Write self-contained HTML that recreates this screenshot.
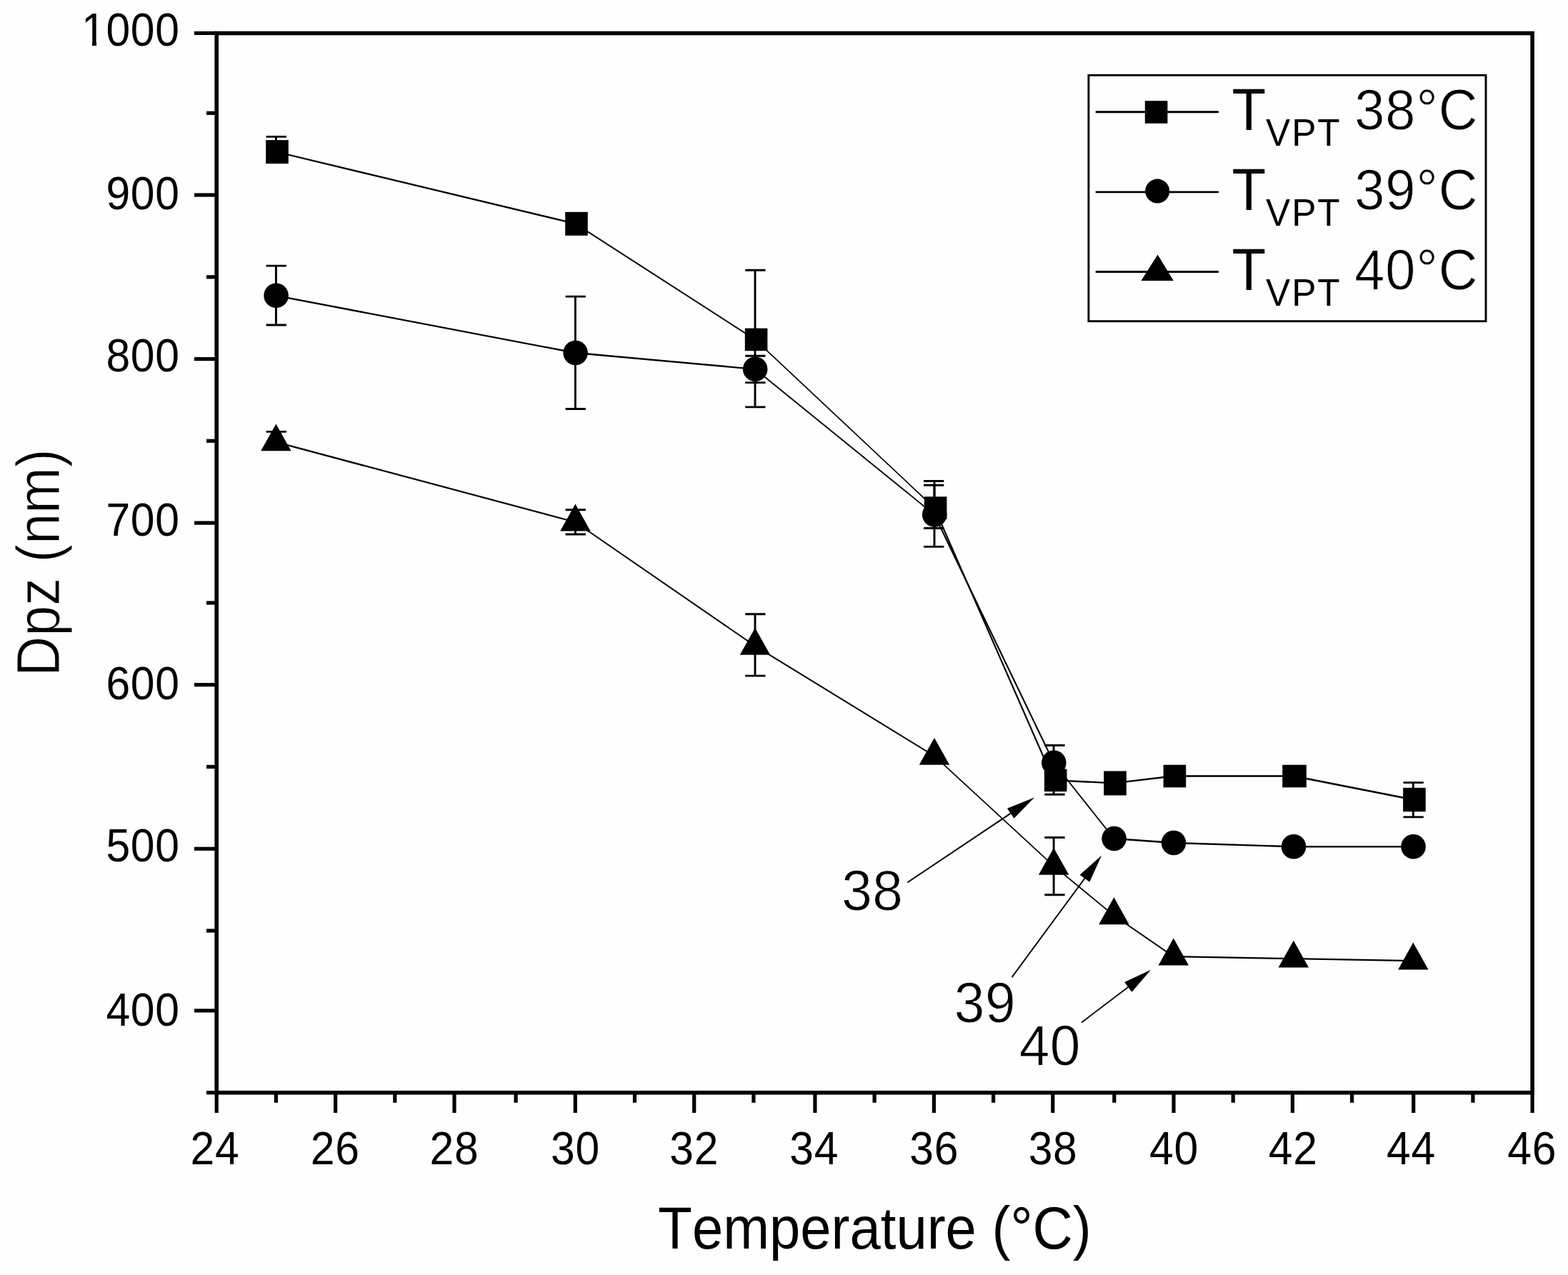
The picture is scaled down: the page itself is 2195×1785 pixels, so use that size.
<!DOCTYPE html>
<html lang="en"><head><meta charset="utf-8">
<title>Dpz vs Temperature</title>
<style>
html,body{margin:0;padding:0;background:#fefefe;}
body{width:2195px;height:1785px;}
svg{display:block;}
text{font-family:'Liberation Sans', sans-serif;fill:#000;font-kerning:none;}
.tick{font-size:64.5px;letter-spacing:0.8px;}
.big{font-size:82.8px;}
.sub{font-size:54.5px;letter-spacing:2.1px;}
.lnum{font-size:80.5px;letter-spacing:1.1px;stroke:#fefefe;stroke-width:0.9px;}
.num{font-size:80.5px;letter-spacing:0.5px;stroke:#fefefe;stroke-width:0.9px;}
.ytitle{font-size:84.4px;stroke:#fefefe;stroke-width:1.0px;}
</style></head><body>
<svg width="2195" height="1785" viewBox="0 0 2195 1785">
<rect x="0" y="0" width="2195" height="1785" fill="#fefefe"/>
<g id="frame" stroke="#000" fill="none" stroke-linecap="butt">
<rect x="303.2" y="46.5" width="1841.9" height="1483.2" stroke-width="5.6"/>
<line x1="289.0" y1="1529.7" x2="303.2" y2="1529.7" stroke-width="5.2"/>
<line x1="272.0" y1="1414.9" x2="303.2" y2="1414.9" stroke-width="5.2"/>
<line x1="289.0" y1="1303.0" x2="303.2" y2="1303.0" stroke-width="5.2"/>
<line x1="272.0" y1="1188.3" x2="303.2" y2="1188.3" stroke-width="5.2"/>
<line x1="289.0" y1="1073.5" x2="303.2" y2="1073.5" stroke-width="5.2"/>
<line x1="272.0" y1="958.7" x2="303.2" y2="958.7" stroke-width="5.2"/>
<line x1="289.0" y1="844.0" x2="303.2" y2="844.0" stroke-width="5.2"/>
<line x1="272.0" y1="732.1" x2="303.2" y2="732.1" stroke-width="5.2"/>
<line x1="289.0" y1="617.3" x2="303.2" y2="617.3" stroke-width="5.2"/>
<line x1="272.0" y1="502.6" x2="303.2" y2="502.6" stroke-width="5.2"/>
<line x1="289.0" y1="387.8" x2="303.2" y2="387.8" stroke-width="5.2"/>
<line x1="272.0" y1="273.0" x2="303.2" y2="273.0" stroke-width="5.2"/>
<line x1="289.0" y1="158.3" x2="303.2" y2="158.3" stroke-width="5.2"/>
<line x1="272.0" y1="46.4" x2="303.2" y2="46.4" stroke-width="5.2"/>
<line x1="303.2" y1="1529.7" x2="303.2" y2="1558.0" stroke-width="5.2"/>
<line x1="386.4" y1="1529.7" x2="386.4" y2="1543.8" stroke-width="5.2"/>
<line x1="469.6" y1="1529.7" x2="469.6" y2="1558.0" stroke-width="5.2"/>
<line x1="552.8" y1="1529.7" x2="552.8" y2="1543.8" stroke-width="5.2"/>
<line x1="636.0" y1="1529.7" x2="636.0" y2="1558.0" stroke-width="5.2"/>
<line x1="722.1" y1="1529.7" x2="722.1" y2="1543.8" stroke-width="5.2"/>
<line x1="805.3" y1="1529.7" x2="805.3" y2="1558.0" stroke-width="5.2"/>
<line x1="888.5" y1="1529.7" x2="888.5" y2="1543.8" stroke-width="5.2"/>
<line x1="971.7" y1="1529.7" x2="971.7" y2="1558.0" stroke-width="5.2"/>
<line x1="1054.9" y1="1529.7" x2="1054.9" y2="1543.8" stroke-width="5.2"/>
<line x1="1140.9" y1="1529.7" x2="1140.9" y2="1558.0" stroke-width="5.2"/>
<line x1="1224.1" y1="1529.7" x2="1224.1" y2="1543.8" stroke-width="5.2"/>
<line x1="1307.4" y1="1529.7" x2="1307.4" y2="1558.0" stroke-width="5.2"/>
<line x1="1390.6" y1="1529.7" x2="1390.6" y2="1543.8" stroke-width="5.2"/>
<line x1="1473.8" y1="1529.7" x2="1473.8" y2="1558.0" stroke-width="5.2"/>
<line x1="1559.8" y1="1529.7" x2="1559.8" y2="1543.8" stroke-width="5.2"/>
<line x1="1643.0" y1="1529.7" x2="1643.0" y2="1558.0" stroke-width="5.2"/>
<line x1="1726.2" y1="1529.7" x2="1726.2" y2="1543.8" stroke-width="5.2"/>
<line x1="1809.4" y1="1529.7" x2="1809.4" y2="1558.0" stroke-width="5.2"/>
<line x1="1892.6" y1="1529.7" x2="1892.6" y2="1543.8" stroke-width="5.2"/>
<line x1="1978.7" y1="1529.7" x2="1978.7" y2="1558.0" stroke-width="5.2"/>
<line x1="2061.9" y1="1529.7" x2="2061.9" y2="1543.8" stroke-width="5.2"/>
<line x1="2145.1" y1="1529.7" x2="2145.1" y2="1558.0" stroke-width="5.2"/>
</g>
<g id="ylabels">
<text class="tick" text-anchor="end" transform="translate(251.8 63.7) scale(0.940 1)">1000</text>
<text class="tick" text-anchor="end" transform="translate(251.8 293.1) scale(0.940 1)">900</text>
<text class="tick" text-anchor="end" transform="translate(251.8 519.8) scale(0.940 1)">800</text>
<text class="tick" text-anchor="end" transform="translate(251.8 749.6) scale(0.940 1)">700</text>
<text class="tick" text-anchor="end" transform="translate(251.8 979.2) scale(0.940 1)">600</text>
<text class="tick" text-anchor="end" transform="translate(251.8 1205.7) scale(0.940 1)">500</text>
<text class="tick" text-anchor="end" transform="translate(251.8 1435.5) scale(0.940 1)">400</text>
<path d="M116.5 58.5H129.0V64.8H116.5ZM135.0 58.5H146.0V64.8H135.0Z" fill="#fefefe"/>
</g>
<g id="xlabels">
<text class="tick" text-anchor="middle" transform="translate(301.0 1630.3) scale(0.940 1)">24</text>
<text class="tick" text-anchor="middle" transform="translate(469.3 1630.3) scale(0.940 1)">26</text>
<text class="tick" text-anchor="middle" transform="translate(636.0 1630.3) scale(0.940 1)">28</text>
<text class="tick" text-anchor="middle" transform="translate(805.5 1630.3) scale(0.940 1)">30</text>
<text class="tick" text-anchor="middle" transform="translate(971.8 1630.3) scale(0.940 1)">32</text>
<text class="tick" text-anchor="middle" transform="translate(1139.7 1630.3) scale(0.940 1)">34</text>
<text class="tick" text-anchor="middle" transform="translate(1307.8 1630.3) scale(0.940 1)">36</text>
<text class="tick" text-anchor="middle" transform="translate(1474.1 1630.3) scale(0.940 1)">38</text>
<text class="tick" text-anchor="middle" transform="translate(1643.5 1630.3) scale(0.940 1)">40</text>
<text class="tick" text-anchor="middle" transform="translate(1810.2 1630.3) scale(0.940 1)">42</text>
<text class="tick" text-anchor="middle" transform="translate(1975.5 1630.3) scale(0.940 1)">44</text>
<text class="tick" text-anchor="middle" transform="translate(2144.7 1630.3) scale(0.940 1)">46</text>
</g>
<text class="big" text-anchor="middle" transform="translate(1224.5 1747.9) scale(0.940 1)">Temperature (°C)</text>
<text class="ytitle" text-anchor="middle" transform="translate(82.7 787.6) rotate(-90) scale(0.917 1)">Dpz (nm)</text>
<g id="lines" stroke="#000" fill="none" stroke-linecap="round">
<line x1="386.4" y1="212.5" x2="805.4" y2="313.2" stroke-width="2.29"/>
<line x1="805.4" y1="313.2" x2="1057.0" y2="475.3" stroke-width="1.98"/>
<line x1="1057.0" y1="475.3" x2="1308.0" y2="711.0" stroke-width="1.72"/>
<line x1="1308.0" y1="711.0" x2="1475.1" y2="1092.3" stroke-width="2.16"/>
<line x1="1475.1" y1="1092.3" x2="1559.4" y2="1096.4" stroke-width="2.35"/>
<line x1="1559.4" y1="1096.4" x2="1642.8" y2="1086.5" stroke-width="2.34"/>
<line x1="1642.8" y1="1086.5" x2="1810.8" y2="1086.5" stroke-width="2.35"/>
<line x1="1810.8" y1="1086.5" x2="1978.3" y2="1119.5" stroke-width="2.31"/>
<line x1="386.4" y1="413.8" x2="805.4" y2="494.0" stroke-width="2.31"/>
<line x1="805.4" y1="494.0" x2="1057.0" y2="516.8" stroke-width="2.34"/>
<line x1="1057.0" y1="516.8" x2="1308.0" y2="720.5" stroke-width="1.83"/>
<line x1="1308.0" y1="720.5" x2="1475.1" y2="1067.8" stroke-width="2.12"/>
<line x1="1475.1" y1="1067.8" x2="1559.4" y2="1174.0" stroke-width="1.84"/>
<line x1="1559.4" y1="1174.0" x2="1642.8" y2="1180.0" stroke-width="2.35"/>
<line x1="1642.8" y1="1180.0" x2="1810.8" y2="1185.3" stroke-width="2.35"/>
<line x1="1810.8" y1="1185.3" x2="1978.3" y2="1185.3" stroke-width="2.35"/>
<line x1="386.4" y1="618.9" x2="805.4" y2="731.0" stroke-width="2.27"/>
<line x1="805.4" y1="731.0" x2="1057.0" y2="904.4" stroke-width="1.94"/>
<line x1="1057.0" y1="904.4" x2="1308.0" y2="1058.4" stroke-width="2.01"/>
<line x1="1308.0" y1="1058.4" x2="1475.1" y2="1212.4" stroke-width="1.73"/>
<line x1="1475.1" y1="1212.4" x2="1559.4" y2="1281.8" stroke-width="1.82"/>
<line x1="1559.4" y1="1281.8" x2="1642.8" y2="1339.1" stroke-width="1.94"/>
<line x1="1642.8" y1="1339.1" x2="1810.8" y2="1342.2" stroke-width="2.35"/>
<line x1="1810.8" y1="1342.2" x2="1978.3" y2="1345.1" stroke-width="2.35"/>
</g>
<g id="errorbars" stroke="#000" fill="none" stroke-width="2.9">
<path d="M372.6 191.4H400.9M372.6 226.0H400.9M386.4 191.4V226.0"/>
<path d="M372.6 372.1H400.9M372.6 455.0H400.9M386.4 372.1V455.0"/>
<path d="M372.6 604.4H400.9M372.6 629.5H400.9M386.4 604.4V629.5"/>
<path d="M791.6 415.1H819.9M791.6 572.5H819.9M805.4 415.1V572.5"/>
<path d="M791.6 713.7H819.9M791.6 748.0H819.9M805.4 713.7V748.0"/>
<path d="M1043.2 378.2H1071.5M1043.2 569.9H1071.5M1057.0 378.2V569.9"/>
<path d="M1043.2 498.2H1071.5M1043.2 535.6H1071.5M1057.0 498.2V535.6"/>
<path d="M1043.2 859.8H1071.5M1043.2 946.1H1071.5M1057.0 859.8V946.1"/>
<path d="M1293.0 673.5H1321.3M1293.0 739.5H1321.3M1308.0 673.5V739.5"/>
<path d="M1293.0 679.2H1321.3M1293.0 765.4H1321.3M1308.0 679.2V765.4"/>
<path d="M1462.3 1043.5H1490.6M1462.3 1092.0H1490.6M1475.1 1043.5V1092.0"/>
<path d="M1462.3 1072.0H1490.6M1462.3 1112.2H1490.6M1475.1 1072.0V1112.2"/>
<path d="M1462.3 1172.5H1490.6M1462.3 1252.7H1490.6M1475.1 1172.5V1252.7"/>
<path d="M1964.5 1095.6H1992.8M1964.5 1143.9H1992.8M1978.3 1095.6V1143.9"/>
</g>
<g id="markers" fill="#000" stroke="none">
<rect x="372.2" y="196.1" width="31.6" height="33.0"/>
<rect x="791.2" y="296.8" width="31.6" height="33.0"/>
<rect x="1042.8" y="459.6" width="31.6" height="31.6"/>
<rect x="1293.8" y="695.3" width="31.6" height="31.6"/>
<rect x="1461.9" y="1076.6" width="31.6" height="31.6"/>
<rect x="1545.2" y="1079.5" width="31.6" height="34.0"/>
<rect x="1628.6" y="1070.8" width="31.6" height="31.6"/>
<rect x="1795.2" y="1070.8" width="33.6" height="31.6"/>
<rect x="1964.1" y="1102.9" width="31.6" height="33.4"/>
<circle cx="386.6" cy="413.8" r="17.3"/>
<circle cx="805.6" cy="494.0" r="17.3"/>
<circle cx="1057.2" cy="516.8" r="17.3"/>
<circle cx="1308.2" cy="720.5" r="17.3"/>
<circle cx="1475.3" cy="1067.8" r="17.3"/>
<circle cx="1559.6" cy="1174.0" r="17.3"/>
<circle cx="1643.0" cy="1180.0" r="17.3"/>
<circle cx="1811.0" cy="1185.3" r="17.3"/>
<circle cx="1978.5" cy="1185.3" r="17.3"/>
<polygon points="386.4,593.4 407.6,631.3 365.2,631.3"/>
<polygon points="805.4,705.5 826.6,743.4 784.2,743.4"/>
<polygon points="1057.0,878.9 1078.2,916.8 1035.8,916.8"/>
<polygon points="1308.0,1032.9 1329.2,1070.8 1286.8,1070.8"/>
<polygon points="1475.1,1186.9 1496.3,1224.8 1453.9,1224.8"/>
<polygon points="1559.4,1256.3 1580.6,1294.2 1538.2,1294.2"/>
<polygon points="1642.8,1313.6 1664.0,1351.5 1621.6,1351.5"/>
<polygon points="1810.8,1316.7 1832.0,1354.6 1789.6,1354.6"/>
<polygon points="1978.3,1319.6 1999.5,1357.5 1957.1,1357.5"/>
</g>
<g id="annotations">
<line x1="1270.3" y1="1235.5" x2="1416.4" y2="1137.6" stroke="#000" stroke-width="1.96"/>
<polygon fill="#000" points="1448.0,1116.5 1419.5,1145.8 1410.0,1131.7"/>
<line x1="1416.5" y1="1368.1" x2="1519.7" y2="1228.1" stroke="#000" stroke-width="1.89"/>
<polygon fill="#000" points="1542.2,1197.5 1525.3,1234.7 1511.6,1224.7"/>
<line x1="1514.1" y1="1431.4" x2="1580.8" y2="1380.7" stroke="#000" stroke-width="1.87"/>
<polygon fill="#000" points="1611.1,1357.7 1584.4,1388.7 1574.1,1375.1"/>
<text class="num" text-anchor="middle" transform="translate(1221.2 1273.6) scale(0.951 1)">38</text>
<text class="num" text-anchor="middle" transform="translate(1378.9 1431.0) scale(0.951 1)">39</text>
<text class="num" text-anchor="middle" transform="translate(1469.7 1491.4) scale(0.951 1)">40</text>
</g>
<g id="legend">
<rect x="1523.9" y="105.3" width="556.1" height="344.4" fill="#fefefe" stroke="#000" stroke-width="2.9"/>
<line x1="1533.7" y1="156.8" x2="1705.8" y2="156.8" stroke="#000" stroke-width="2.9"/>
<rect x="1602.8" y="141.2" width="31.6" height="31.6" fill="#000"/>
<text class="big" text-anchor="start" transform="translate(1724.5 181.6) scale(0.940 1)">T<tspan class="sub" dy="22.1">VPT</tspan><tspan class="lnum" dy="-23.0" dx="-3.6"> 38°C</tspan></text>
<line x1="1533.7" y1="268.9" x2="1705.8" y2="268.9" stroke="#000" stroke-width="2.9"/>
<circle cx="1620.2" cy="267.6" r="17.0" fill="#000"/>
<text class="big" text-anchor="start" transform="translate(1724.5 294.1) scale(0.940 1)">T<tspan class="sub" dy="22.1">VPT</tspan><tspan class="lnum" dy="-23.0" dx="-3.6"> 39°C</tspan></text>
<line x1="1533.7" y1="380.5" x2="1705.8" y2="380.5" stroke="#000" stroke-width="2.9"/>
<polygon fill="#000" points="1620.6,356.5 1642.8,393.1 1597.4,393.1"/>
<text class="big" text-anchor="start" transform="translate(1724.5 405.9) scale(0.940 1)">T<tspan class="sub" dy="22.1">VPT</tspan><tspan class="lnum" dy="-23.0" dx="-3.6"> 40°C</tspan></text>
</g>
</svg>
</body></html>
